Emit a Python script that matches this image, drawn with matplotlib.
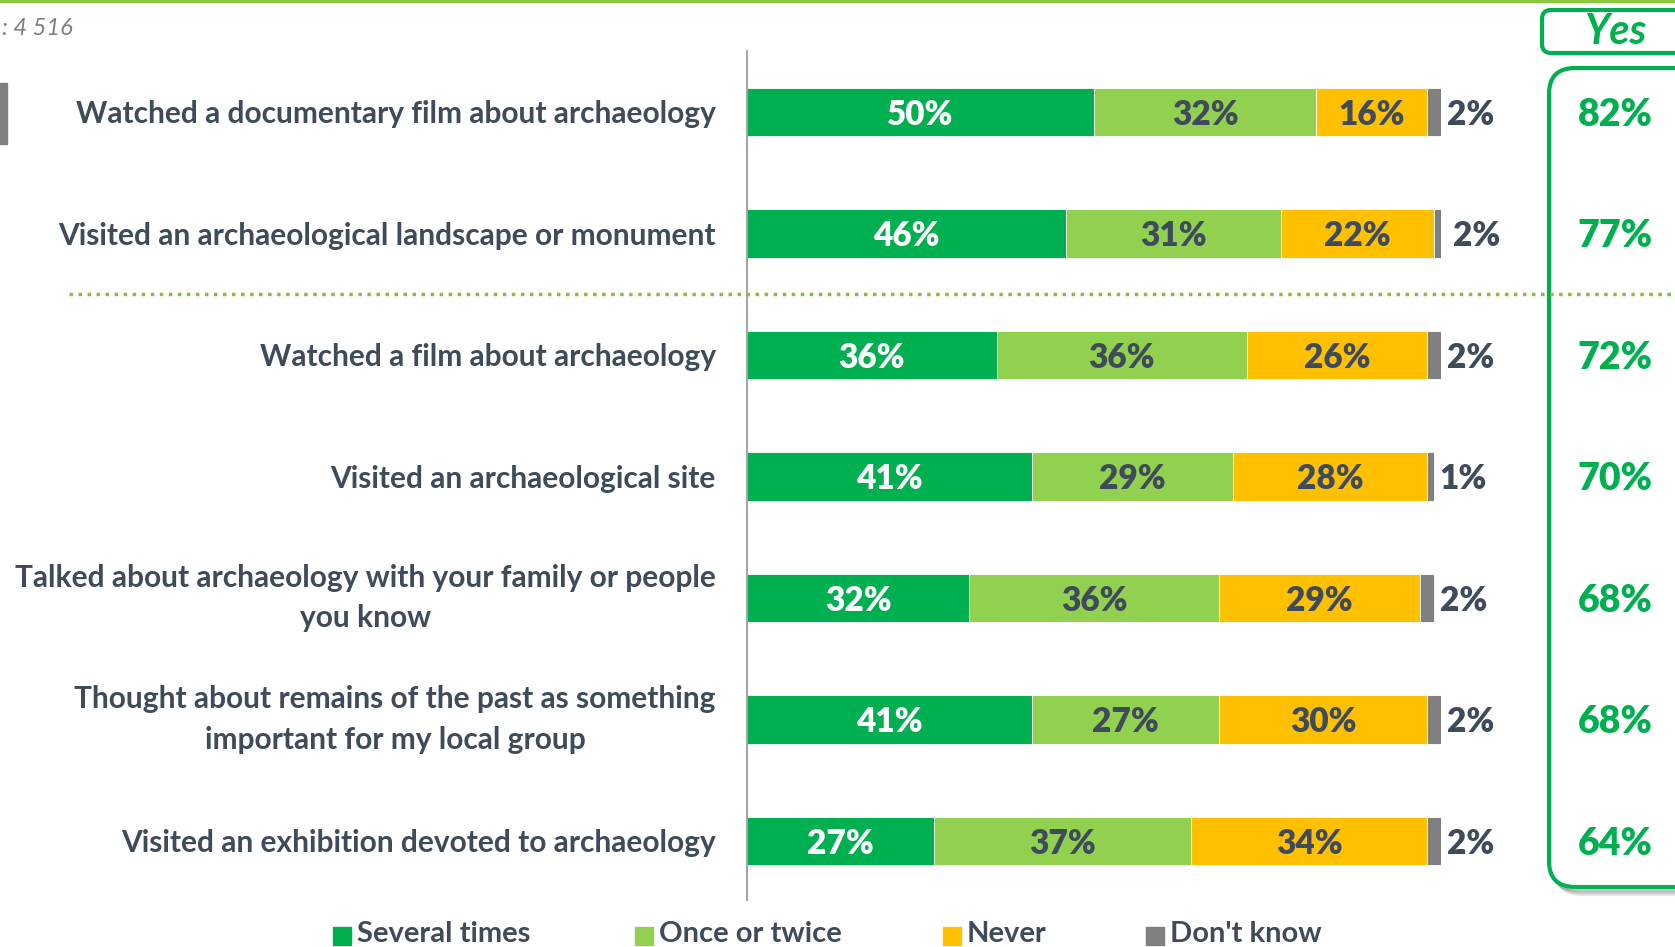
import matplotlib
matplotlib.use("Agg")
import matplotlib.pyplot as plt
from matplotlib.patches import FancyBboxPatch, Rectangle
from matplotlib.transforms import blended_transform_factory

plt.rcParams['font.family'] = ['Lato', 'DejaVu Sans']

activities = [
    "Watched a documentary film about archaeology",
    "Visited an archaeological landscape or monument",
    "Watched a film about archaeology",
    "Visited an archaeological site",
    "Talked about archaeology with your family or people\nyou know",
    "Thought about remains of the past as something\nimportant for my local group",
    "Visited an exhibition devoted to archaeology",
]
several_times = [50, 46, 36, 41, 32, 41, 27]
once_or_twice = [32, 31, 36, 29, 36, 27, 37]
never = [16, 22, 26, 28, 29, 30, 34]
dont_know = [2, 2, 2, 1, 2, 2, 2]
yes_total = [82, 77, 72, 70, 68, 68, 64]

series_names = ["Several times", "Once or twice", "Never", "Don't know"]
series_colors = ["#00B050", "#92D050", "#FFC000", "#808080"]
text_dark = "#3F4B5B"
green = "#00B050"

W, H = 1675, 947
fig = plt.figure(figsize=(W / 100, H / 100), dpi=100)

# main bar axes, placed in pixel terms
x0, x1 = 747, 1441
y_top, y_bot = 51, 900
ax = fig.add_axes([x0 / W, 1 - y_bot / H, (x1 - x0) / W, (y_bot - y_top) / H])
ax.set_xlim(0, 100)
ax.set_ylim(6.486, -0.502)
for s in ["top", "right", "bottom"]:
    ax.spines[s].set_visible(False)
ax.spines["left"].set_color("#A6A6A6")
ax.spines["left"].set_linewidth(1.5)
ax.set_xticks([])
ax.set_yticks([])

rows = list(range(len(activities)))
left = [0] * len(rows)
series = [several_times, once_or_twice, never, dont_know]
for k, (vals, col) in enumerate(zip(series, series_colors)):
    ax.barh(rows, vals, left=left, height=0.40, color=col,
            edgecolor="white", linewidth=0.6, zorder=2)
    for i, v in enumerate(vals):
        if k < 3:
            ax.text(left[i] + v / 2, i, f"{v}%", ha="center",
                    va="center_baseline", fontsize=24, fontweight="heavy",
                    color="white" if k == 0 else text_dark, zorder=3)
        else:
            ax.annotate(f"{v}%", (left[i] + v, i), xytext=(4, 0),
                        textcoords="offset points", ha="left",
                        va="center_baseline", fontsize=24, fontweight="heavy",
                        color=text_dark, annotation_clip=False)
    left = [a + b for a, b in zip(left, vals)]

# category labels (two-line ones centred as a block)
for i, lab in enumerate(activities):
    two_lines = "\n" in lab
    ax.annotate(lab, (0, i), xycoords=("axes fraction", "data"),
                xytext=(-31, 0), textcoords="offset pixels",
                ha="right", va="center" if two_lines else "center_baseline",
                multialignment="center",
                fontsize=21.5, fontweight="bold", color=text_dark,
                linespacing=1.55, annotation_clip=False)

# dotted separator between the first two rows and the rest
tr = blended_transform_factory(fig.transFigure, ax.transData)
ax.plot([69 / W, 1.0], [1.5, 1.5], transform=tr, color="#7DC242",
        linestyle=(0, (1, 1.6)), linewidth=2.5, clip_on=False, zorder=1)

# overlay in pixel coordinates for frame decorations
ov = fig.add_axes([0, 0, 1, 1], zorder=-1)
ov.set_xlim(0, W)
ov.set_ylim(H, 0)
ov.axis("off")

ov.plot([0, W], [1, 1], color="#8DC63F", linewidth=2.5)
ov.add_patch(Rectangle((0, 83), 7, 61, color="#808080"))
ov.text(2, 28, ": 4 516", fontsize=17, style="italic", color="#7F7F7F",
        ha="left", va="center")

# "Yes" header and column box
ov.add_patch(FancyBboxPatch((1542, 10), 200, 43,
                            boxstyle="round,pad=0,rounding_size=9",
                            facecolor="white", edgecolor=green, linewidth=3))
ov.text(1615, 32, "Yes", fontsize=30, style="italic", fontweight="bold",
        color=green, ha="center", va="center")

for off, a in [(7, 0.10), (5, 0.12), (3, 0.15)]:
    ov.add_patch(FancyBboxPatch((1549 + off, 68 + off), 200, 819,
                                boxstyle="round,pad=0,rounding_size=26",
                                facecolor="none", edgecolor="black",
                                linewidth=3, alpha=a))
ov.add_patch(FancyBboxPatch((1549, 68), 200, 819,
                            boxstyle="round,pad=0,rounding_size=26",
                            facecolor="white", edgecolor=green, linewidth=3))

for i, v in enumerate(yes_total):
    ax.annotate(f"{v}%", (1615 / W, i), xycoords=("figure fraction", "data"),
                ha="center", va="center_baseline", fontsize=27,
                fontweight="heavy", color=green, annotation_clip=False,
                zorder=5)

# legend along the bottom edge
legend_x = [333, 635, 943, 1146]
for name, col, lx in zip(series_names, series_colors, legend_x):
    ov.add_patch(Rectangle((lx, 927), 18, 18, color=col))
    ov.text(lx + 24, 934, name, fontsize=21, fontweight="bold",
            color=text_dark, ha="left", va="center")

fig.savefig("out.png", dpi=100)
